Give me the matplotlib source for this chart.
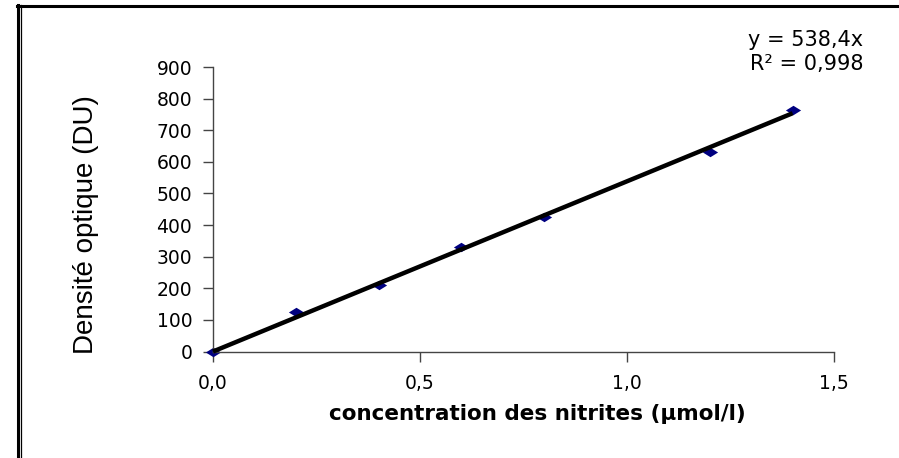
import numpy as np
import matplotlib.pyplot as plt
from matplotlib.lines import Line2D
from matplotlib.ticker import FuncFormatter

# data
concentration = [0.0, 0.2, 0.4, 0.6, 0.8, 1.2, 1.4]
densite = [0, 125, 210, 330, 425, 632, 764]
slope = 538.4
r2_text = "0,998"

x_ticks = [0.0, 0.5, 1.0, 1.5]
y_ticks = [0, 100, 200, 300, 400, 500, 600, 700, 800, 900]

# the reference is horizontally stretched, so use the wider DejaVu Sans for horizontal text
plt.rcParams['font.family'] = ['DejaVu Sans']

W, H = 899, 458
fig = plt.figure(figsize=(W / 100, H / 100), dpi=100)
ax = fig.add_axes([213 / W, 1 - 351.5 / H, (834 - 213) / W, (351.5 - 67) / H])

# flattened diamond marker, drawn under the trend line
diamond = [(-1, 0), (0, 0.62), (1, 0), (0, -0.62), (-1, 0)]
ax.scatter(concentration, densite, marker=diamond, s=120, color='#000080',
           zorder=2, clip_on=False, linewidths=0)

xfit = np.array([0, max(concentration)])
ax.plot(xfit, slope * xfit, color='black', lw=3.2, zorder=3,
        solid_capstyle='butt', clip_on=False)

ax.set_xlim(0, 1.5)
ax.set_ylim(0, 900)
ax.set_xticks(x_ticks)
ax.set_yticks(y_ticks)
ax.xaxis.set_major_formatter(FuncFormatter(lambda v, p: f"{v:.1f}".replace('.', ',')))

for s in ['top', 'right']:
    ax.spines[s].set_visible(False)
for s in ['left', 'bottom']:
    ax.spines[s].set_color('#444444')
    ax.spines[s].set_linewidth(1.0)
ax.tick_params(axis='both', direction='out', length=7, width=1.0, color='#444444',
               labelsize=13.5)
ax.tick_params(axis='x', pad=9)
ax.tick_params(axis='y', pad=8)

ax.set_xlabel('concentration des nitrites (µmol/l)', fontsize=15.5, fontweight='bold')
ax.xaxis.set_label_coords((537 - 213) / 621, (351.5 - 404) / 284.5)
ax.set_ylabel('Densité optique (DU)', fontsize=20,
              family=['Liberation Sans Narrow', 'Liberation Sans'])
ax.yaxis.set_label_coords((99 - 213) / 621, (351.5 - 225) / 284.5)

fig.text(863 / W, 1 - 40 / H, 'y = 538,4x', ha='right', va='center', fontsize=15)
fig.text(863 / W, 1 - 64 / H, 'R² = ' + r2_text, ha='right', va='center', fontsize=15)

# outer frame: double line on the left, single on top
fig.add_artist(Line2D([17.5 / W, 17.5 / W], [0, 1 - 5 / H], transform=fig.transFigure,
                      color='black', lw=2.2))
fig.add_artist(Line2D([20.5 / W, 20.5 / W], [0, 1 - 5 / H], transform=fig.transFigure,
                      color='black', lw=0.9))
fig.add_artist(Line2D([16.5 / W, 1], [1 - 5.5 / H, 1 - 5.5 / H], transform=fig.transFigure,
                      color='black', lw=2.2))

fig.savefig('out.png', dpi=100)
